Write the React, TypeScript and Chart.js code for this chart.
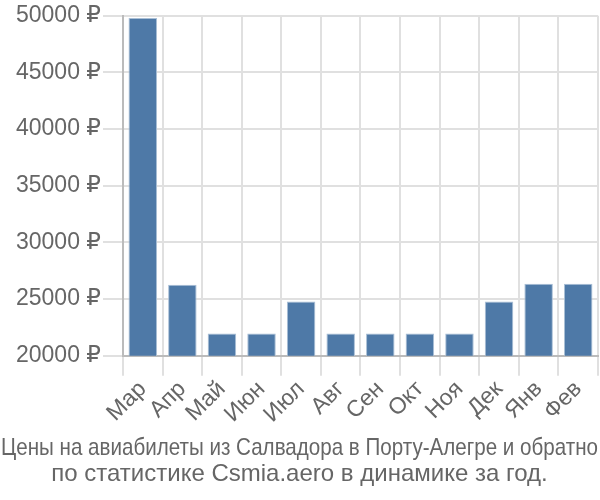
import React, { useEffect, useRef } from "react";
import { Chart, registerables } from "chart.js";

Chart.register(...registerables);

const categories = ["Мар", "Апр", "Май", "Июн", "Июл", "Авг", "Сен", "Окт", "Ноя", "Дек", "Янв", "Фев"];
const prices = [49800, 26250, 21950, 21950, 24780, 21950, 21950, 21950, 21950, 24780, 26350, 26350];
const yMin = 20000;
const yMax = 50000;
const yStep = 5000;
const currency = " ₽";
const titleLines = [
  "Цены на авиабилеты из Салвадора в Порту-Алегре и обратно",
  "по статистике Csmia.aero в динамике за год.",
];

export default function App() {
  const ref = useRef<HTMLCanvasElement | null>(null);
  useEffect(() => {
    document.body.style.margin = "0";
    const ctx = ref.current!;
    const font = "'Liberation Sans', Arial, 'DejaVu Sans', sans-serif";
    const chart = new Chart(ctx, {
      type: "bar",
      data: {
        labels: categories,
        datasets: [
          {
            data: prices,
            backgroundColor: "#4e79a7",
            borderColor: "#a9bfd6",
            borderWidth: 1,
          },
        ],
      },
      options: {
        animation: false,
        responsive: false,
        layout: { padding: { top: 2, right: 2, left: 1, bottom: 0 } },
        plugins: {
          legend: { display: false },
          tooltip: { enabled: false },
          title: {
            display: true,
            position: "bottom",
            text: titleLines,
            color: "#666",
            font: { family: font, size: 24, weight: "normal", lineHeight: 1.1 },
            padding: { top: 7, bottom: 12 },
          },
        },
        scales: {
          x: {
            grid: { color: "#e0e0e0", lineWidth: 2, tickLength: 20, offset: true },
            border: { color: "#bbb", width: 2 },
            ticks: {
              color: "#666",
              font: { family: font, size: 23 },
              maxRotation: 45,
              minRotation: 45,
              autoSkip: false,
              padding: 0,
            },
          },
          y: {
            min: yMin,
            max: yMax,
            grid: { color: "#e0e0e0", lineWidth: 2, tickLength: 20 },
            border: { color: "#bbb", width: 2 },
            afterFit: (axis: any) => {
              axis.width += 13;
            },
            ticks: {
              stepSize: yStep,
              color: "#666",
              font: { family: font, size: 23 },
              padding: 2,
              callback: (v: any) => v + currency,
            },
          },
        },
      },
    });
    return () => chart.destroy();
  }, []);
  return (
    <div style={{ width: 600, height: 500 }}>
      <canvas ref={ref} width={600} height={500} />
    </div>
  );
}
